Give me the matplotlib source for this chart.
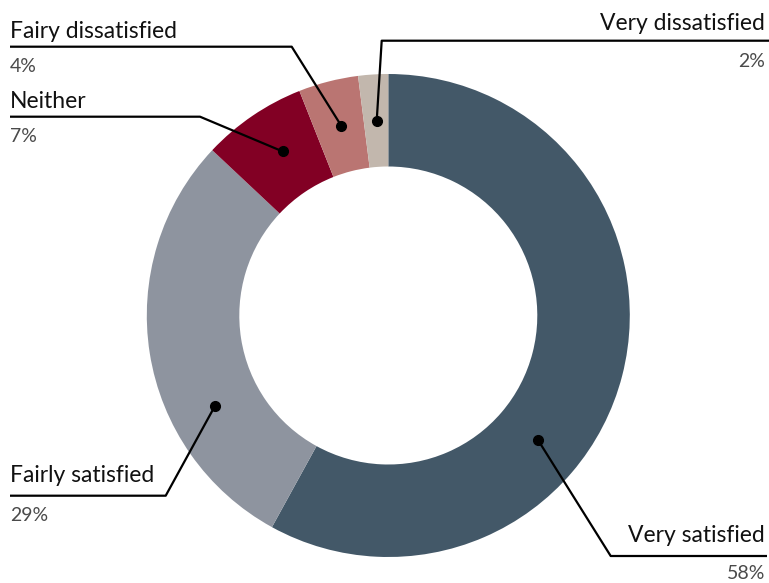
import numpy as np
import matplotlib.pyplot as plt

# satisfaction survey results, clockwise from the top
categories = ["Very satisfied", "Fairly satisfied", "Neither",
              "Fairy dissatisfied", "Very dissatisfied"]
shares = [58, 29, 7, 4, 2]
share_labels = ["58%", "29%", "7%", "4%", "2%"]

colors = ["#435868", "#8e949f", "#820024", "#ba7572", "#c2b7ad"]

W, H = 769, 583
CX, CY = 388.3, H - 315.5
R_OUT, R_IN = 241.5, 149.0

# label layout in pixel coords (y measured from the top):
# text x, alignment, name baseline, rule y, elbow x, rule end x, pct baseline, dot angle (deg)
layout = {
    "Very satisfied":     (765, "right", 542.5, 556.0, 610.7, 767, 579.0, -39.8),
    "Fairly satisfied":   (10, "left", 482.0, 495.7, 165.7, 10, 521.0, 207.5),
    "Neither":            (10, "left", 107.5, 116.7, 200.0, 10, 141.5, 122.8),
    "Fairy dissatisfied": (10, "left", 37.5, 46.7, 291.7, 10, 71.5, 103.9),
    "Very dissatisfied":  (765, "right", 30.5, 40.7, 381.7, 769, 67.0, 93.4),
}

plt.rcParams['font.family'] = ['Lato', 'DejaVu Sans']

fig = plt.figure(figsize=(W / 100, H / 100), dpi=100)
ax = fig.add_axes([0, 0, 1, 1])

ax.pie(shares, colors=colors, startangle=90, counterclock=False,
       center=(CX, CY), radius=R_OUT,
       wedgeprops=dict(width=R_OUT - R_IN, linewidth=0))

r_dot = (R_OUT + R_IN) / 2
for name, pct in zip(categories, share_labels):
    tx, ha, name_y, rule_y, elbow_x, end_x, pct_y, ang = layout[name]
    dx = CX + r_dot * np.cos(np.radians(ang))
    dy = CY + r_dot * np.sin(np.radians(ang))
    ax.plot([end_x, elbow_x, dx], [H - rule_y, H - rule_y, dy],
            color="black", lw=1.6, solid_capstyle="butt", zorder=3)
    ax.plot(dx, dy, "o", color="black", ms=7, zorder=4)
    ax.text(tx, H - name_y, name, ha=ha, va="baseline",
            fontsize=16.5, color="#111111")
    ax.text(tx, H - pct_y, pct, ha=ha, va="baseline",
            fontsize=14, color="#4a4a4a")

ax.set_xlim(0, W)
ax.set_ylim(0, H)
ax.set_aspect("equal")
ax.axis("off")

fig.savefig("out.png", dpi=100)
